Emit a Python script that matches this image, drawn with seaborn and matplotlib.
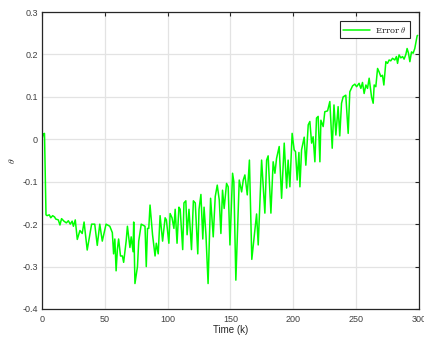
import matplotlib
matplotlib.use("Agg")
import matplotlib.pyplot as plt
import seaborn as sns
import pandas as pd

time_k = [0, 1, 2, 3.2, 4, 5.8, 7, 8.5, 10, 11, 13, 14.3, 15.6, 17.5, 19.4, 21, 22.5, 24, 25, 26.5,
          28.1, 30.2, 32, 33.5, 36, 39.5, 42, 44, 46, 48, 51, 54, 56, 57, 58, 59, 60, 61, 62.5, 64,
          65, 67, 68, 70, 71, 72.5, 73, 74, 76, 77, 79, 82, 83, 84, 85, 86, 88, 90, 91, 92.5,
          94, 96, 98, 99, 101, 102, 103.5, 105, 106, 107.5, 109, 110, 112, 113, 114.5, 115.5, 117, 119, 120.5, 122,
          124, 125, 126.5, 128, 129, 130.5, 132.2, 134.2, 136.3, 137.9, 139.5, 141.1, 142.4, 143.7, 145, 146.9, 148.2, 149.6, 151.7, 152.7,
          154.3, 157, 158.9, 160.2, 161.5, 163.4, 165.1, 167, 169.5, 170.8, 172.1, 174.8, 177.4, 178.8, 180, 182.2, 184, 185.4, 186.7, 188.8,
          190.7, 192.8, 194.7, 195.9, 197.3, 199.1, 200.7, 201.8, 203.1, 204.5, 205.3, 206.6, 208.7, 210, 211.9, 213.2, 214.6, 215.8, 217.2, 218.5,
          219.8, 221.2, 222, 223.8, 225.1, 227.3, 229.1, 231, 232.4, 233.9, 235.7, 237, 238.4, 239.7, 241.8, 243.7, 245, 247.2, 249, 250.4,
          252.4, 253.8, 255.1, 256.4, 257.8, 259.1, 260.4, 262.3, 263.6, 264.4, 265.7, 267.1, 268.3, 269.7, 271, 272.1, 273.7, 275, 276.3, 277.6,
          279, 280.8, 282.1, 283, 284.2, 285.6, 287, 288.2, 289.6, 290.6, 291.7, 292.8, 294.1, 295.4, 296.7, 298.6, 299]

error_theta = [0.0, 0.012, 0.014, -0.178, -0.180, -0.178, -0.185, -0.180, -0.183, -0.188, -0.190, -0.202, -0.187, -0.193, -0.197, -0.192, -0.200, -0.193, -0.205, -0.190,
               -0.236, -0.215, -0.222, -0.195, -0.261, -0.200, -0.200, -0.250, -0.200, -0.240, -0.200, -0.205, -0.220, -0.270, -0.235, -0.310, -0.260, -0.235, -0.275, -0.275,
               -0.290, -0.240, -0.205, -0.255, -0.230, -0.265, -0.195, -0.340, -0.300, -0.240, -0.200, -0.205, -0.300, -0.210, -0.210, -0.155, -0.225, -0.275, -0.245, -0.270,
               -0.180, -0.240, -0.185, -0.190, -0.245, -0.175, -0.185, -0.210, -0.165, -0.245, -0.160, -0.165, -0.260, -0.150, -0.145, -0.225, -0.165, -0.260, -0.145, -0.150,
               -0.270, -0.165, -0.130, -0.235, -0.160, -0.225, -0.340, -0.139, -0.230, -0.135, -0.108, -0.143, -0.222, -0.120, -0.163, -0.104, -0.112, -0.249, -0.080, -0.100,
               -0.332, -0.096, -0.124, -0.096, -0.084, -0.131, -0.049, -0.283, -0.214, -0.176, -0.249, -0.049, -0.174, -0.049, -0.039, -0.174, -0.053, -0.080, -0.045, -0.017,
               -0.139, -0.009, -0.115, -0.049, -0.112, 0.014, -0.025, -0.029, -0.096, -0.031, -0.112, -0.025, 0.005, -0.061, 0.034, 0.042, -0.009, 0.006, -0.053, 0.050,
               0.054, -0.053, 0.045, 0.030, 0.065, 0.067, 0.089, -0.021, 0.081, 0.010, 0.077, 0.008, 0.085, 0.100, 0.104, 0.014, 0.112, 0.126, 0.130, 0.124,
               0.132, 0.120, 0.134, 0.108, 0.128, 0.120, 0.144, 0.100, 0.085, 0.128, 0.124, 0.167, 0.159, 0.148, 0.151, 0.128, 0.183, 0.179, 0.187, 0.185,
               0.191, 0.187, 0.195, 0.179, 0.199, 0.192, 0.195, 0.189, 0.200, 0.214, 0.203, 0.183, 0.206, 0.203, 0.214, 0.244, 0.245]

x_ticks = [0, 50, 100, 150, 200, 250, 300]
y_ticks = [-0.4, -0.3, -0.2, -0.1, 0, 0.1, 0.2, 0.3]
y_tick_labels = ["-0.4", "-0.3", "-0.2", "-0.1", "0", "0.1", "0.2", "0.3"]

sns.set_theme(style="whitegrid")
plt.rcParams['font.family'] = ['Liberation Sans', 'DejaVu Sans']
plt.rcParams['mathtext.fontset'] = 'cm'

df = pd.DataFrame({"k": time_k, "err": error_theta})

fig = plt.figure(figsize=(4.24, 3.39), dpi=100)
ax = fig.add_axes([0.099, 0.0885, 0.889, 0.876])
sns.lineplot(data=df, x="k", y="err", sort=False, color="#00ff00", linewidth=1.1,
             ax=ax, label=r"Error $\theta$")

ax.set_xlim(0, 300)
ax.set_ylim(-0.4, 0.3)
ax.set_xticks(x_ticks)
ax.set_yticks(y_ticks)
ax.set_yticklabels(y_tick_labels)
ax.set_facecolor("white")
ax.grid(True, color="#e3e3e3", linewidth=0.9)
for s in ax.spines.values():
    s.set_visible(True)
    s.set_color("#262626")
    s.set_linewidth(0.9)
ax.tick_params(direction="in", length=3, width=0.8, colors="#262626", labelsize=6.5,
               top=True, right=True, labelcolor="#404040", pad=3)
ax.tick_params(axis="x", pad=4)
ax.set_xlabel("Time (k)", fontsize=7, color="#262626", labelpad=1)
ax.set_ylabel(r"$\theta$", fontsize=7, color="#262626", labelpad=4)

leg = ax.legend(loc="upper right", fontsize=6, frameon=True, fancybox=False,
                edgecolor="#262626", framealpha=1, borderpad=0.4, handlelength=3.2,
                handletextpad=0.6, borderaxespad=1.1)
for t in leg.get_texts():
    t.set_family("serif")
    t.set_color("#262626")
leg.get_frame().set_linewidth(0.8)

fig.savefig("out.png", dpi=100)
